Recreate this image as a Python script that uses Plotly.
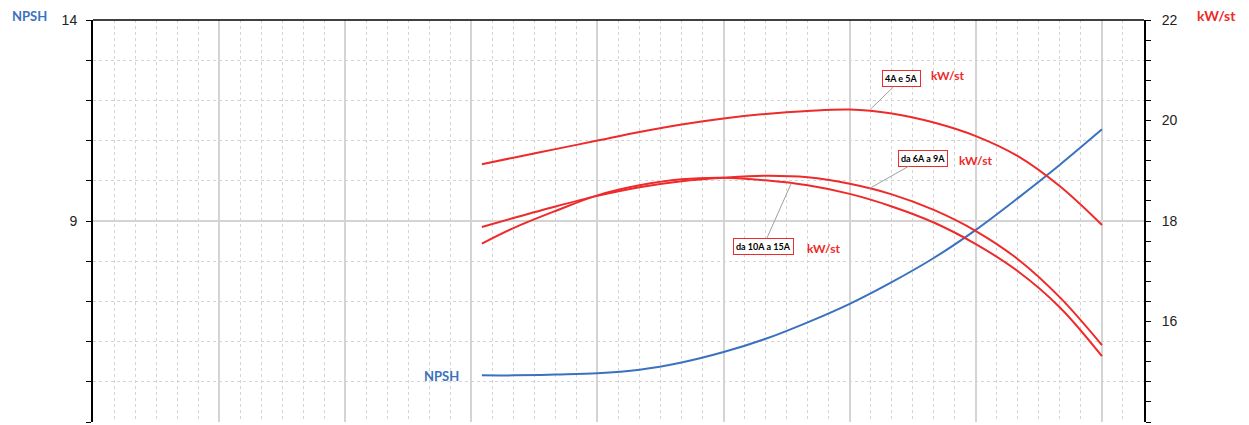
import plotly.graph_objects as go

# ---- data ----
x_vals = [18.5, 20, 22, 24, 26, 28, 30, 32, 34, 36, 38, 40, 42, 44, 46, 48]
kw_4a_5a = [19.13, 19.26, 19.43, 19.60, 19.77, 19.92, 20.04, 20.13, 20.19, 20.22, 20.14, 19.96,
            19.69, 19.29, 18.69, 17.92]
kw_6a_9a = [17.88, 18.06, 18.29, 18.50, 18.67, 18.79, 18.86, 18.90, 18.87, 18.74, 18.53, 18.22,
            17.80, 17.24, 16.48, 15.53]
kw_10a_15a = [17.55, 17.86, 18.20, 18.51, 18.71, 18.83, 18.86, 18.81, 18.71, 18.54, 18.29, 17.97,
              17.54, 17.00, 16.28, 15.31]
npsh = [5.16, 5.16, 5.18, 5.21, 5.30, 5.48, 5.74, 6.07, 6.48, 6.94, 7.48, 8.08, 8.78, 9.57, 10.40, 11.28]

left_ticks = [4, 9, 14]
right_ticks = [14, 16, 18, 20, 22]

RED = "#ee2a2a"
BLUE = "#3a72c0"
GRID = "#d4d4d4"
LABEL_FONT = "Lato"

fig = go.Figure()
fig.add_trace(go.Scatter(x=x_vals, y=npsh, mode="lines", line=dict(color=BLUE, width=2, shape="spline"),
                         yaxis="y", showlegend=False, hoverinfo="skip"))
for ys in (kw_4a_5a, kw_6a_9a, kw_10a_15a):
    fig.add_trace(go.Scatter(x=x_vals, y=ys, mode="lines", line=dict(color=RED, width=2, shape="spline"),
                             yaxis="y2", showlegend=False, hoverinfo="skip"))

# the page body has an 8px margin, so the figure is sized to fit inside it
fig.update_layout(
    width=1241, height=417,
    margin=dict(l=85, r=105, t=12, b=3),
    plot_bgcolor="white", paper_bgcolor="white",
    xaxis=dict(range=[0, 50], showticklabels=False, ticks="", zeroline=False, showline=False,
               showgrid=True, dtick=6, tick0=0, gridcolor=GRID, gridwidth=1.5,
               minor=dict(dtick=1, tick0=0, showgrid=True, gridcolor=GRID, gridwidth=1, griddash="3px,3px")),
    yaxis=dict(range=[4, 14], tickvals=left_ticks, ticks="outside", ticklen=5, tickcolor="black",
               showline=True, linecolor="black", linewidth=2, zeroline=False,
               showgrid=True, gridcolor=GRID, gridwidth=1.5, ticklabelstandoff=6,
               tickfont=dict(family="Liberation Sans", size=14, color="#222"),
               minor=dict(dtick=1, tick0=4, ticks="outside", ticklen=5, tickcolor="black",
                          showgrid=True, gridcolor=GRID, gridwidth=1, griddash="3px,3px")),
    yaxis2=dict(range=[14, 22], tickvals=right_ticks, overlaying="y", side="right", ticks="outside",
                ticklen=5, tickcolor="black", showline=True, linecolor="black", linewidth=2,
                zeroline=False, showgrid=False, ticklabelstandoff=8,
                tickfont=dict(family="Liberation Sans", size=14, color="#222"),
                minor=dict(dtick=0.4, tick0=14, ticks="outside", ticklen=5, tickcolor="black", showgrid=False)),
    shapes=[dict(type="line", xref="paper", yref="paper", x0=0, x1=1, y0=1, y1=1,
                 line=dict(color="black", width=1.5))],
)

def boxed(text, x, y, ax, ay):
    fig.add_annotation(x=x, y=y, xref="x", yref="y2", text="<b>%s</b>" % text, showarrow=True,
                       arrowhead=0, arrowwidth=1, arrowcolor="#a0a0a0", ax=ax, ay=ay,
                       bordercolor=RED, borderwidth=1, borderpad=2, bgcolor="white",
                       font=dict(family=LABEL_FONT, size=9, color="black"))

def unit(x, y):
    fig.add_annotation(x=x, y=y, xref="x", yref="y2", text="<b>kW/st</b>", showarrow=False,
                       font=dict(family=LABEL_FONT, size=12, color=RED))

boxed("4A e 5A", 36.95, 20.21, 32, -31)
unit(40.66, 20.89)
boxed("da 6A a 9A", 36.95, 18.65, 53, -30)
unit(41.99, 19.21)
boxed("da 10A a 15A", 33.22, 18.75, -28, 63)
unit(34.76, 17.46)

fig.add_annotation(x=16.6, y=5.14, xref="x", yref="y", text="<b>NPSH</b>", showarrow=False,
                   font=dict(family=LABEL_FONT, size=13, color=BLUE))

# axis titles
fig.add_annotation(x=0, y=1, xref="paper", yref="paper", xshift=-64, yshift=4, text="<b>NPSH</b>",
                   showarrow=False, xanchor="center", yanchor="middle",
                   font=dict(family=LABEL_FONT, size=13, color=BLUE))
fig.add_annotation(x=1, y=1, xref="paper", yref="paper", xshift=72, yshift=5, text="<b>kW/st</b>",
                   showarrow=False, xanchor="center", yanchor="middle",
                   font=dict(family=LABEL_FONT, size=14, color=RED))

fig.write_html("out.html")
